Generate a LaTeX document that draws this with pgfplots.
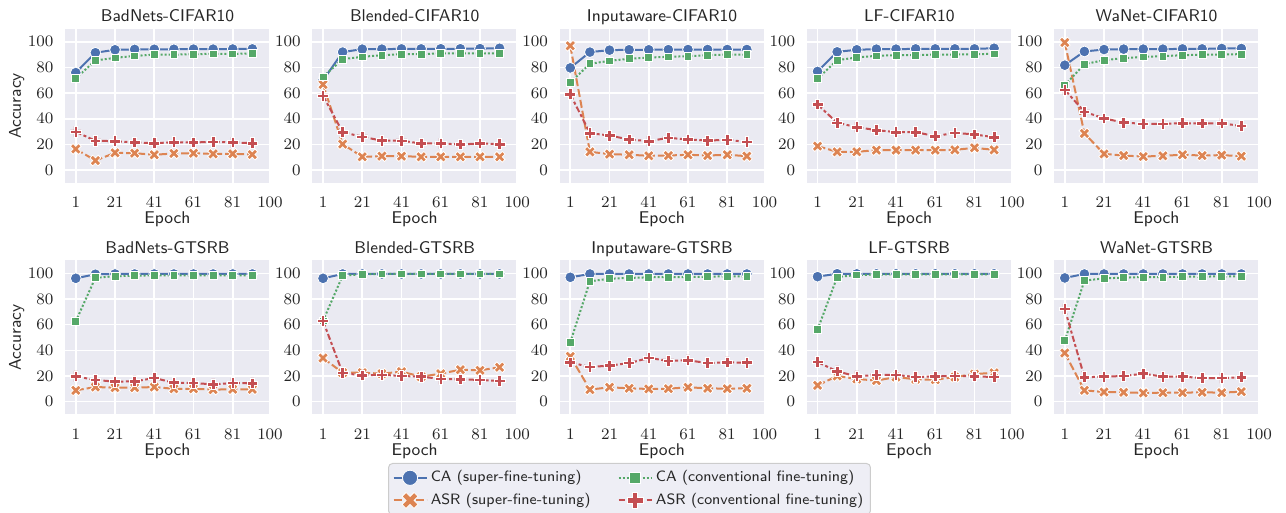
\documentclass[border=0pt]{standalone}
\usepackage{pgfplots}
\usepackage{pgfplotstable}
\pgfplotsset{compat=1.18}

\definecolor{sbblue}{HTML}{4C72B0}
\definecolor{sborange}{HTML}{DD8452}
\definecolor{sbgreen}{HTML}{55A868}
\definecolor{sbred}{HTML}{C44E52}
\definecolor{seabg}{HTML}{EAEAF2}
\definecolor{txt}{HTML}{262626}
\definecolor{legbd}{HTML}{CCCCCC}
\definecolor{legbg}{HTML}{EEEEF5}

% filled X and filled plus, as matplotlib draws 'X' and 'P'
\pgfdeclareplotmark{Xf}{%
  \pgfpathmoveto{\pgfqpoint{-0.5\pgfplotmarksize}{-1\pgfplotmarksize}}%
  \pgfpathlineto{\pgfqpoint{0pt}{-0.5\pgfplotmarksize}}%
  \pgfpathlineto{\pgfqpoint{0.5\pgfplotmarksize}{-1\pgfplotmarksize}}%
  \pgfpathlineto{\pgfqpoint{1\pgfplotmarksize}{-0.5\pgfplotmarksize}}%
  \pgfpathlineto{\pgfqpoint{0.5\pgfplotmarksize}{0pt}}%
  \pgfpathlineto{\pgfqpoint{1\pgfplotmarksize}{0.5\pgfplotmarksize}}%
  \pgfpathlineto{\pgfqpoint{0.5\pgfplotmarksize}{1\pgfplotmarksize}}%
  \pgfpathlineto{\pgfqpoint{0pt}{0.5\pgfplotmarksize}}%
  \pgfpathlineto{\pgfqpoint{-0.5\pgfplotmarksize}{1\pgfplotmarksize}}%
  \pgfpathlineto{\pgfqpoint{-1\pgfplotmarksize}{0.5\pgfplotmarksize}}%
  \pgfpathlineto{\pgfqpoint{-0.5\pgfplotmarksize}{0pt}}%
  \pgfpathlineto{\pgfqpoint{-1\pgfplotmarksize}{-0.5\pgfplotmarksize}}%
  \pgfpathclose
  \pgfusepathqfillstroke}
\pgfdeclareplotmark{Pf}{%
  \pgfpathmoveto{\pgfqpoint{-0.333\pgfplotmarksize}{-1\pgfplotmarksize}}%
  \pgfpathlineto{\pgfqpoint{0.333\pgfplotmarksize}{-1\pgfplotmarksize}}%
  \pgfpathlineto{\pgfqpoint{0.333\pgfplotmarksize}{-0.333\pgfplotmarksize}}%
  \pgfpathlineto{\pgfqpoint{1\pgfplotmarksize}{-0.333\pgfplotmarksize}}%
  \pgfpathlineto{\pgfqpoint{1\pgfplotmarksize}{0.333\pgfplotmarksize}}%
  \pgfpathlineto{\pgfqpoint{0.333\pgfplotmarksize}{0.333\pgfplotmarksize}}%
  \pgfpathlineto{\pgfqpoint{0.333\pgfplotmarksize}{1\pgfplotmarksize}}%
  \pgfpathlineto{\pgfqpoint{-0.333\pgfplotmarksize}{1\pgfplotmarksize}}%
  \pgfpathlineto{\pgfqpoint{-0.333\pgfplotmarksize}{0.333\pgfplotmarksize}}%
  \pgfpathlineto{\pgfqpoint{-1\pgfplotmarksize}{0.333\pgfplotmarksize}}%
  \pgfpathlineto{\pgfqpoint{-1\pgfplotmarksize}{-0.333\pgfplotmarksize}}%
  \pgfpathlineto{\pgfqpoint{-0.333\pgfplotmarksize}{-0.333\pgfplotmarksize}}%
  \pgfpathclose
  \pgfusepathqfillstroke}

\pgfplotsset{
  ca/.style={color=sbblue, solid, line width=1pt, mark=*, mark size=2.7pt,
    mark options={solid, fill=sbblue, draw=white, line width=0.4pt}},
  asr/.style={color=sborange, dash pattern=on 4pt off 1.5pt, line width=1pt, mark=Xf, mark size=2.7pt,
    mark options={solid, fill=sborange, draw=white, line width=0.4pt}},
  cac/.style={color=sbgreen, dash pattern=on 1pt off 1pt, line width=1pt, mark=square*, mark size=1.95pt,
    mark options={solid, fill=sbgreen, draw=white, line width=0.4pt}},
  asrc/.style={color=sbred, dash pattern=on 3pt off 1.25pt on 1.5pt off 1.25pt, line width=1pt, mark=Pf, mark size=2.7pt,
    mark options={solid, fill=sbred, draw=white, line width=0.4pt}},
  panel/.style={
    scale only axis, width=102.5pt, height=77pt, anchor=south west,
    xmin=-4.5, xmax=100, ymin=-10, ymax=110,
    xtick={1,21,41,61,81,100}, ytick={0,20,...,100},
    grid=major, major grid style={white, line width=0.8pt},
    axis background/.style={fill=seabg},
    axis line style={draw=none}, major tick length=0pt,
    tick label style={font=\fontsize{8}{9}\selectfont, text=txt},
    xticklabel style={yshift=-3.6pt}, yticklabel style={xshift=-2.3pt},
    xlabel={Epoch},
    xlabel style={at={(axis description cs:0.5,0)}, anchor=north, yshift=-10.9pt,
      font=\fontsize{8.5}{10}\selectfont\sffamily, text=txt},
    every axis title shift=0pt,
    title style={at={(axis description cs:0.5,1)}, anchor=base, yshift=3.65pt,
      font=\fontsize{8.5}{10}\selectfont\sffamily, text=txt},
  },
  firstcol/.style={ylabel={Accuracy},
    ylabel style={at={(axis description cs:-0.2356,0.5)}, anchor=center,
      font=\fontsize{8.5}{10}\selectfont\sffamily, text=txt}},
}

\pgfplotstableread{
ep ca asr cac asrc
1 76 16.5 71.5 29.9
11 91.5 7.5 85.5 22.9
21 93.8 13.5 87.5 22.6
31 94.1 13.2 89 21.6
41 94.2 12 90 21
51 94.2 13 90 21.8
61 94.3 13.2 90.4 21.6
71 94.3 12.7 90.6 22
81 94.4 12.7 90.6 21.6
91 94.5 12.2 91 21
}\bcifar
\pgfplotstableread{
ep ca asr cac asrc
1 70 66.8 72.7 58
11 92 20.3 86.5 29.6
21 94.3 10.4 88.3 26
31 94.3 10.9 89.6 23
41 94.5 10.9 90.4 22.9
51 94.5 10.4 90.4 20.8
61 94.6 10.4 91 20.8
71 94.6 10.4 91 20
81 94.7 10.4 91 20.8
91 95 10.4 91 20.3
}\blcifar
\pgfplotstableread{
ep ca asr cac asrc
1 79.7 96.9 68.3 59.2
11 92 14.3 82.9 28.8
21 93.5 12.5 85.2 27
31 93.8 12 86.8 23.9
41 93.8 11.2 87.8 22.6
51 93.9 11.4 88.3 25.2
61 94 12 88.8 23.9
71 94 11.4 89.6 23.1
81 94 12 90.1 23.6
91 94 10.9 90.1 22
}\icifar
\pgfplotstableread{
ep ca asr cac asrc
1 76.9 18.7 71.4 51.2
11 92.2 14.3 85.7 36.9
21 93.8 14.3 87.8 33.5
31 94.3 15.6 89.1 31.2
41 94.3 15.6 89.6 29.6
51 94.5 15.6 89.6 29.6
61 94.5 15.6 90.1 26.5
71 94.5 15.8 90.1 29.1
81 94.5 17.4 90.4 27.8
91 95 15.8 90.6 25.7
}\lcifar
\pgfplotstableread{
ep ca asr cac asrc
1 81.8 99.5 66.2 62.6
11 92.5 28.6 82.6 45.5
21 94 12.7 85.7 40.3
31 94.3 11.4 87.3 37.1
41 94.3 10.6 88.3 36.1
51 94.3 11.2 88.8 36.1
61 94.5 12 89.6 36.6
71 94.5 11.4 89.9 36.4
81 94.8 11.7 90.1 36.4
91 94.8 10.9 90.4 34.5
}\wcifar
\pgfplotstableread{
ep ca asr cac asrc
1 96.1 8.8 62.6 19.7
11 99.3 11.4 96.6 16.9
21 99.5 10.9 97.7 15.6
31 99.5 10.9 98.2 15.8
41 99.5 11.4 98.4 18.4
51 99.5 10 98.4 14.8
61 99.5 10 98.4 14.5
71 99.5 9.4 98.4 13.5
81 99.5 9.6 98.4 14.5
91 99.5 9.6 98.4 14.3
}\bgtsrb
\pgfplotstableread{
ep ca asr cac asrc
1 96.1 34 63 62.9
11 99.5 22.6 98.2 22.3
21 99.5 22.6 99.2 20.5
31 99.5 21.8 99.5 21
41 99.5 23.4 99.5 20
51 99.5 19.5 99.5 19.5
61 99.5 21.8 99.5 17.7
71 99.5 24.9 99.5 17.4
81 99.5 24.4 99.5 16.9
91 99.5 26.8 99.5 16.1
}\blgtsrb
\pgfplotstableread{
ep ca asr cac asrc
1 96.9 35.3 46.2 30.6
11 99.5 9.4 93.8 27
21 99.5 11.2 95.8 28.1
31 99.5 10.4 96.4 30.1
41 99.5 9.9 96.9 34
51 99.5 10.1 97.1 31.9
61 99.5 11.2 97.1 32.2
71 99.5 10.4 97.4 30.1
81 99.5 10.1 97.7 30.6
91 99.5 10.4 97.7 30.4
}\igtsrb
\pgfplotstableread{
ep ca asr cac asrc
1 97.4 12.7 56.1 30.9
11 99.7 20 97.1 23.6
21 99.6 17.7 98.7 19.7
31 99.6 16.4 99 20.8
41 99.6 19.2 99.2 20.8
51 99.6 17.4 99.2 19.2
61 99.6 17.1 99.2 19.7
71 99.6 19.2 99.2 20
81 99.6 21.5 99.2 19.7
91 99.6 22.5 99.2 19.2
}\lgtsrb
\pgfplotstableread{
ep ca asr cac asrc
1 96.4 37.9 47.5 72.2
11 99.5 8.8 94.3 19
21 99.5 7.5 96.1 19.5
31 99.5 7.3 96.6 20
41 99.5 6.8 97.1 21.8
51 99.5 7 97.1 19.5
61 99.5 7 97.4 19.5
71 99.5 7.3 97.4 18.4
81 99.5 7 97.7 18.4
91 99.5 7.8 97.7 19
}\wgtsrb

% #1 left, #2 bottom, #3 title, #4 table, #5 extra keys
\newcommand{\panel}[5]{%
  \begin{axis}[panel, at={(#1,#2)}, title={#3}, #5]
    \addplot[ca] table[x=ep, y=ca] {#4};
    \addplot[asr] table[x=ep, y=asr] {#4};
    \addplot[cac] table[x=ep, y=cac] {#4};
    \addplot[asrc] table[x=ep, y=asrc] {#4};
  \end{axis}}

\begin{document}
\begin{tikzpicture}
\useasboundingbox (0,0) rectangle (643pt,256.5pt);

\panel{32.5pt}{165pt}{BadNets-CIFAR10}{\bcifar}{firstcol}
\panel{156.125pt}{165pt}{Blended-CIFAR10}{\blcifar}{}
\panel{279.75pt}{165pt}{Inputaware-CIFAR10}{\icifar}{}
\panel{403.375pt}{165pt}{LF-CIFAR10}{\lcifar}{}
\panel{527pt}{165pt}{WaNet-CIFAR10}{\wcifar}{}

\panel{32.5pt}{49.25pt}{BadNets-GTSRB}{\bgtsrb}{firstcol}
\panel{156.125pt}{49.25pt}{Blended-GTSRB}{\blgtsrb}{}
\panel{279.75pt}{49.25pt}{Inputaware-GTSRB}{\igtsrb}{}
\panel{403.375pt}{49.25pt}{LF-GTSRB}{\lgtsrb}{}
\panel{527pt}{49.25pt}{WaNet-GTSRB}{\wgtsrb}{}

% legend only
\begin{axis}[at={(0,0)}, anchor=south west, scale only axis, width=643pt, height=256.5pt,
  hide axis, xmin=0, xmax=1, ymin=0, ymax=1,
  legend columns=2, legend cell align=left,
  legend image code/.code={\draw[sharp corners, mark repeat=2, mark phase=2, #1]
    plot coordinates {(0pt,0pt) (8.25pt,0pt) (16.5pt,0pt)};},
  legend style={at={(629.5/1286,50/513)}, anchor=north, draw=legbd, fill=legbg,
    rounded corners=2pt, line width=0.5pt, font=\fontsize{7.5}{9}\selectfont\sffamily,
    text=txt, inner sep=2pt, row sep=1pt, nodes={inner sep=1.6pt},
    /tikz/every even column/.append style={column sep=12pt}}]
  \addlegendimage{ca, mark size=3.8pt}
  \addlegendentry{CA (super-fine-tuning)}
  \addlegendimage{cac, mark size=2.7pt}
  \addlegendentry{CA (conventional fine-tuning)}
  \addlegendimage{asr, mark size=4pt}
  \addlegendentry{ASR (super-fine-tuning)}
  \addlegendimage{asrc, mark size=4pt}
  \addlegendentry{ASR (conventional fine-tuning)}
\end{axis}
\end{tikzpicture}
\end{document}
